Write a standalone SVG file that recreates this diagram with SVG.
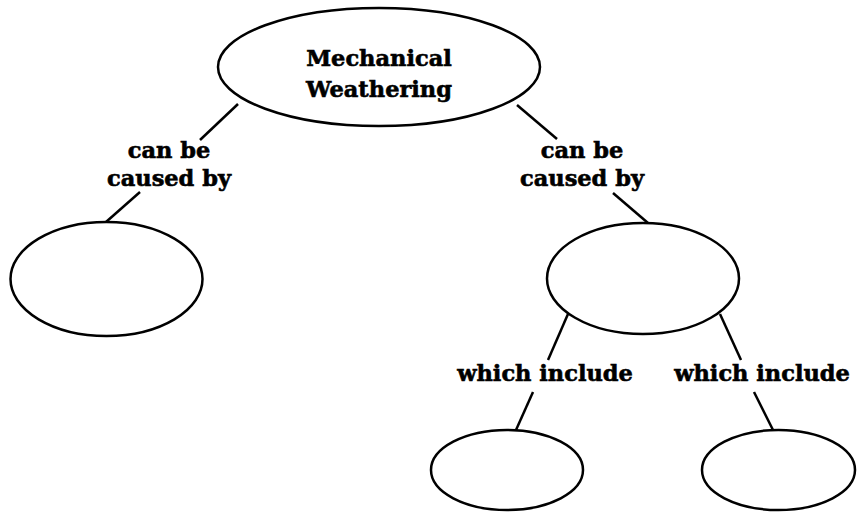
<svg xmlns="http://www.w3.org/2000/svg" width="862" height="512" viewBox="0 0 862 512">
  <style>
    .node { fill: #ffffff; stroke: #000000; stroke-width: 2.5; }
    .link { stroke: #000000; stroke-width: 2.5; fill: none; }
    text { font-family: "DejaVu Serif", "Liberation Serif", serif; font-weight: bold; font-size: 22.5px; fill: #000000; stroke: #000000; stroke-width: 0.6; text-anchor: middle; }
  </style>
  <rect width="862" height="512" fill="#ffffff"/>

  <!-- connectors, broken where the link labels sit -->
  <g id="connectors">
    <line class="link" x1="238" y1="104" x2="200" y2="140"/>
    <line class="link" x1="140" y1="192" x2="106" y2="222"/>
    <line class="link" x1="517" y1="105" x2="557" y2="139"/>
    <line class="link" x1="613" y1="193" x2="648" y2="223"/>
    <line class="link" x1="568" y1="314" x2="548" y2="360"/>
    <line class="link" x1="533" y1="392" x2="516" y2="430"/>
    <line class="link" x1="720" y1="314" x2="741" y2="360"/>
    <line class="link" x1="754" y1="392" x2="773" y2="430"/>
    <text x="169" y="158">can be</text>
    <text x="169" y="186">caused by</text>
    <text x="582" y="158">can be</text>
    <text x="582" y="186">caused by</text>
    <text x="545" y="381">which include</text>
    <text x="762" y="381">which include</text>
  </g>

  <g id="mechanical-weathering">
    <ellipse class="node" cx="379" cy="67" rx="161" ry="59"/>
    <text x="379" y="66">Mechanical</text>
    <text x="379" y="97">Weathering</text>
  </g>
  <g id="cause-left">
    <ellipse class="node" cx="106.5" cy="279" rx="96" ry="57"/>
  </g>
  <g id="cause-right">
    <ellipse class="node" cx="643" cy="278.5" rx="96" ry="55.5"/>
  </g>
  <g id="example-left">
    <ellipse class="node" cx="507" cy="470" rx="76" ry="40"/>
  </g>
  <g id="example-right">
    <ellipse class="node" cx="778.5" cy="470" rx="76.5" ry="40"/>
  </g>
</svg>
